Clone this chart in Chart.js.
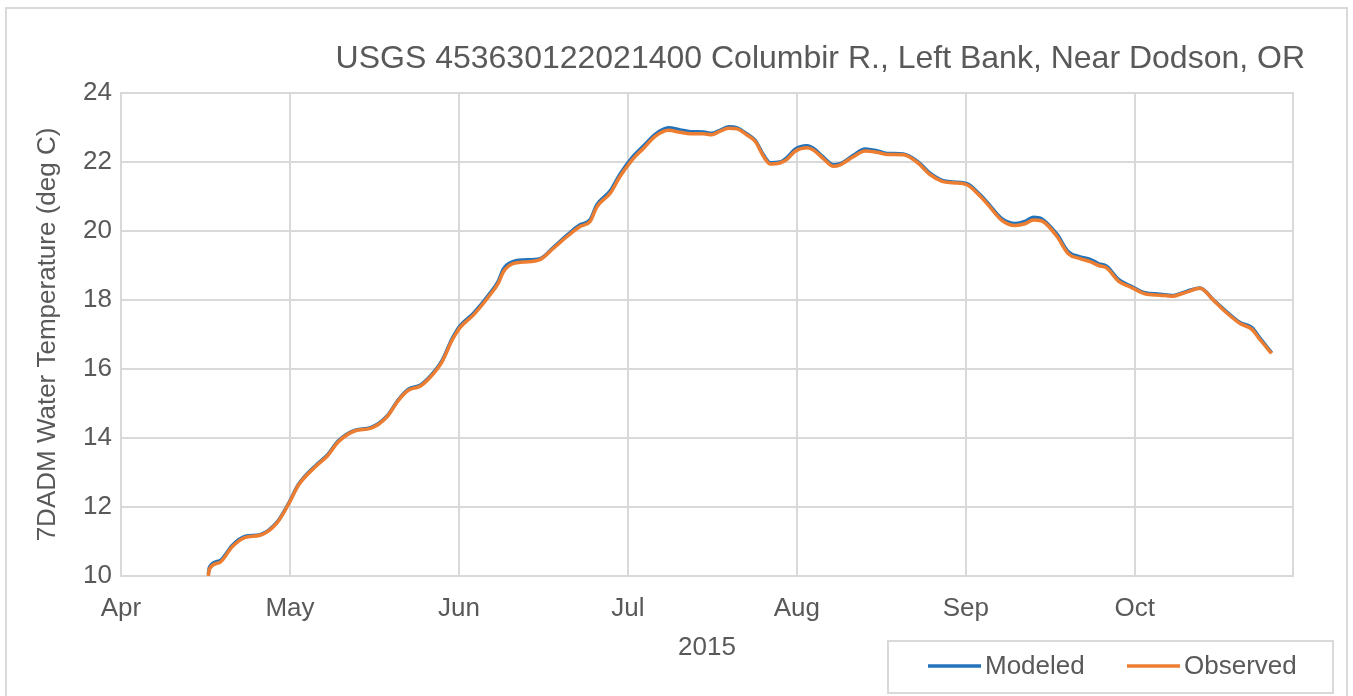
<!DOCTYPE html>
<html>
<head>
<meta charset="utf-8">
<script src="https://cdn.jsdelivr.net/npm/chart.js@4"></script>
<style>
  html, body { margin: 0; padding: 0; background: #ffffff; overflow: hidden; }
  #wrap { position: relative; width: 1353px; height: 696px; }
  #frame { position: absolute; left: 5px; top: 7px; width: 1343px; height: 720px; border: 2px solid #d9d9d9; box-sizing: border-box; pointer-events: none; }
  canvas { position: absolute; left: 0; top: 0; }
</style>
</head>
<body>
<div id="wrap">
  <canvas id="c" width="1353" height="696"></canvas>
  <div id="frame"></div>
</div>
<script>
// ---- data (x = days after Apr 1 on the chart's month-spaced axis) ----
const chartTitle = 'USGS 453630122021400 Columbir R., Left Bank, Near Dodson, OR';
const yAxisTitle = '7DADM Water Temperature (deg C)';
const xAxisTitle = '2015';
const monthLabels = ['Apr', 'May', 'Jun', 'Jul', 'Aug', 'Sep', 'Oct'];
const monthTicks = [0, 30, 60, 90, 120, 150, 180];
const seriesNames = ['Modeled', 'Observed'];

const days = [15.5, 15.7, 17.6, 19.7, 22.1, 24.7, 27.7, 29.8, 31.5, 34.8,
  36.6, 38.6, 41.6, 44.3, 47.2, 49.3, 51.1, 53.1, 54.9, 57.0,
  58.8, 60.2, 62.6, 65.3, 67.0, 67.9, 69.7, 71.5, 74.4, 76.8,
  79.2, 81.5, 83.3, 84.5, 86.9, 88.6, 90.7, 92.8, 94.9, 97.2,
  99.3, 101.1, 103.4, 104.9, 106.1, 107.9, 109.4, 111.1, 112.6, 114.1,
  115.3, 117.0, 118.2, 119.7, 121.8, 123.0, 124.7, 126.5, 127.7, 130.1,
  132.1, 134.2, 136.0, 138.9, 141.3, 143.7, 145.8, 147.8, 150.2, 152.6,
  153.7, 156.4, 158.8, 160.5, 162.0, 163.5, 166.2, 168.2, 170.3, 172.1,
  173.6, 175.0, 177.1, 179.2, 181.8, 184.5, 186.6, 189.2, 191.6, 194.0,
  196.3, 198.7, 200.8, 202.3, 204.3];

const observed = [10.0, 10.2, 10.4, 10.84, 11.12, 11.18, 11.54, 12.1, 12.63, 13.21,
  13.47, 13.89, 14.21, 14.28, 14.61, 15.1, 15.39, 15.5, 15.76, 16.21,
  16.84, 17.2, 17.57, 18.1, 18.49, 18.82, 19.06, 19.1, 19.17, 19.5,
  19.84, 20.13, 20.28, 20.7, 21.1, 21.58, 22.05, 22.4, 22.75, 22.92,
  22.86, 22.82, 22.82, 22.79, 22.87, 22.98, 22.96, 22.79, 22.6, 22.16,
  21.94, 21.97, 22.07, 22.31, 22.41, 22.34, 22.1, 21.88, 21.92, 22.16,
  22.32, 22.28, 22.22, 22.21, 22.0, 21.63, 21.44, 21.4, 21.34, 21.0,
  20.81, 20.31, 20.16, 20.21, 20.32, 20.29, 19.84, 19.34, 19.2, 19.11,
  19.0, 18.93, 18.55, 18.38, 18.18, 18.14, 18.11, 18.23, 18.34, 17.99,
  17.63, 17.32, 17.15, 16.84, 16.45];

const modeled = [10.05, 10.25, 10.45, 10.88, 11.15, 11.2, 11.56, 12.12, 12.65, 13.24,
  13.5, 13.92, 14.23, 14.3, 14.63, 15.12, 15.42, 15.53, 15.79, 16.24,
  16.88, 17.25, 17.62, 18.15, 18.55, 18.9, 19.12, 19.16, 19.2, 19.53,
  19.88, 20.18, 20.33, 20.76, 21.17, 21.65, 22.12, 22.47, 22.81, 22.99,
  22.93, 22.88, 22.87, 22.83, 22.9, 23.02, 22.99, 22.82, 22.63, 22.2,
  21.98, 22.0, 22.12, 22.37, 22.47, 22.39, 22.14, 21.92, 21.95, 22.2,
  22.38, 22.33, 22.25, 22.23, 22.03, 21.67, 21.47, 21.42, 21.37, 21.04,
  20.85, 20.36, 20.22, 20.28, 20.4, 20.35, 19.9, 19.4, 19.25, 19.18,
  19.05, 18.98, 18.6, 18.41, 18.21, 18.17, 18.13, 18.25, 18.35, 18.0,
  17.66, 17.35, 17.2, 16.88, 16.47];

// ---- styling ----
const TEXT = '#595959';
const GRID = '#d9d9d9';
const BLUE = '#2373ba';
const ORANGE = '#ED7D31';
const FONT = '"Liberation Sans", Arial, sans-serif';

const toPts = (ys) => days.map((d, i) => ({ x: d, y: ys[i] }));

const framePlugin = {
  id: 'framePlugin',
  beforeDatasetsDraw(chart) {
    const { ctx, chartArea: a } = chart;
    ctx.save();
    ctx.strokeStyle = GRID;
    ctx.lineWidth = 2;
    ctx.strokeRect(a.left, a.top, a.right - a.left, a.bottom - a.top);
    ctx.restore();
  },
  afterDraw(chart) {
    const { ctx } = chart;
    ctx.save();
    // legend box
    ctx.strokeStyle = GRID;
    ctx.lineWidth = 2;
    ctx.strokeRect(888, 641, 445, 52);
    const items = [0, 1].map(i => chart.data.datasets[i]);
    const xs = [928, 1127];
    ctx.font = '26px ' + FONT;
    ctx.textBaseline = 'middle';
    ctx.textAlign = 'left';
    items.forEach((ds, i) => {
      ctx.strokeStyle = ds.borderColor;
      ctx.lineWidth = 3.5;
      ctx.beginPath();
      ctx.moveTo(xs[i], 666);
      ctx.lineTo(xs[i] + 53, 666);
      ctx.stroke();
      ctx.fillStyle = TEXT;
      ctx.fillText(ds.label, xs[i] + 57, 667);
    });
    ctx.restore();
  }
};

new Chart(document.getElementById('c'), {
  type: 'line',
  data: {
    datasets: [
      { label: seriesNames[0], data: toPts(modeled), borderColor: BLUE, backgroundColor: BLUE,
        borderWidth: 3.5, pointRadius: 0, cubicInterpolationMode: 'monotone', order: 1 },
      { label: seriesNames[1], data: toPts(observed), borderColor: ORANGE, backgroundColor: ORANGE,
        borderWidth: 3.5, pointRadius: 0, cubicInterpolationMode: 'monotone', order: 0 }
    ]
  },
  options: {
    responsive: false,
    animation: false,
    devicePixelRatio: 1,
    layout: { padding: { left: 0, right: 48, top: 0, bottom: 0 } },
    plugins: {
      legend: { display: false },
      tooltip: { enabled: false },
      title: {
        display: true, text: chartTitle, align: 'end', color: TEXT,
        font: { family: FONT, size: 32, weight: 'normal' },
        padding: { top: 40.4, bottom: 14.2 }
      }
    },
    scales: {
      x: {
        type: 'linear', min: 0, max: 208.1,
        afterBuildTicks: (s) => { s.ticks = monthTicks.map(v => ({ value: v })); },
        afterFit: (s) => { s.height = 120; },
        grid: { color: GRID, lineWidth: 2, drawTicks: false },
        border: { color: GRID, width: 2 },
        ticks: {
          color: TEXT, padding: 17, maxRotation: 0, autoSkip: false,
          font: { family: FONT, size: 26 },
          callback: (v) => monthLabels[monthTicks.indexOf(v)]
        },
        title: { display: true, text: xAxisTitle, color: TEXT, font: { family: FONT, size: 26 }, padding: { top: 0, bottom: 33 } }
      },
      y: {
        min: 10, max: 24,
        afterFit: (s) => { s.width = 121; },
        grid: { color: GRID, lineWidth: 2, drawTicks: false },
        border: { color: GRID, width: 2 },
        ticks: { stepSize: 2, color: TEXT, padding: 9, font: { family: FONT, size: 26 } },
        title: { display: true, text: yAxisTitle, color: TEXT, font: { family: FONT, size: 26 }, padding: { top: 32, bottom: 0 } }
      },
      y2: {
        position: 'right', display: true,
        afterFit: (s) => { s.width = 12; },
        grid: { display: false, drawTicks: false },
        border: { display: false },
        ticks: { display: false }
      }
    }
  },
  plugins: [framePlugin]
});
</script>
</body>
</html>
